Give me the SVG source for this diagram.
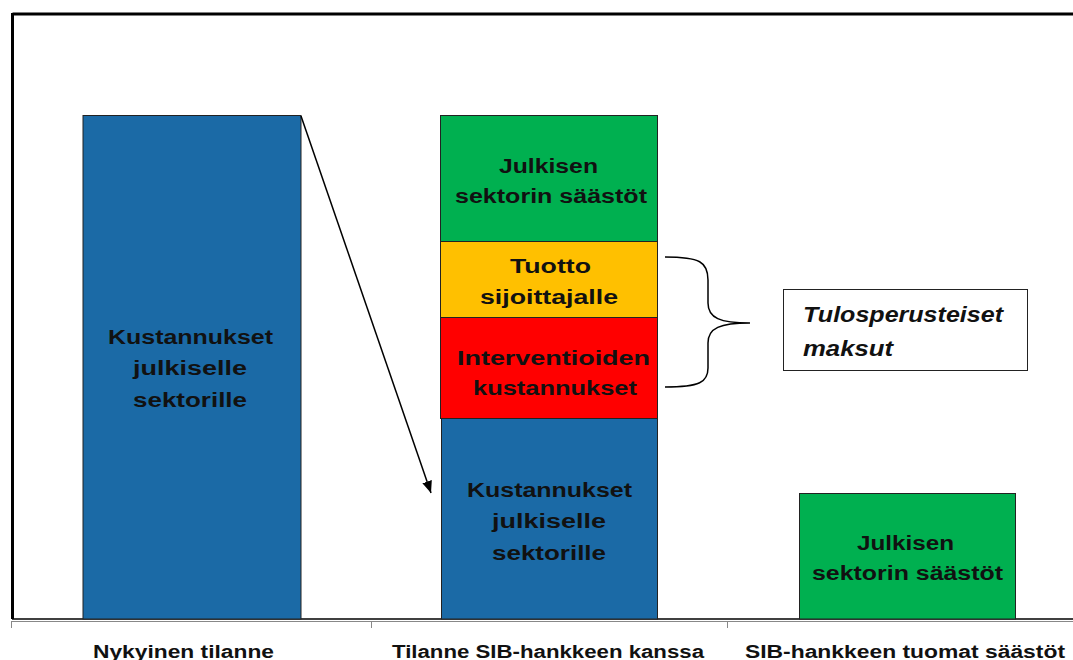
<svg xmlns="http://www.w3.org/2000/svg" width="1073" height="660" viewBox="0 0 1073 660">
<defs>
<style>
.t{font-family:"Liberation Sans",Arial,sans-serif;font-weight:bold;font-size:20px;fill:#111;}
.ax{font-family:"Liberation Sans",Arial,sans-serif;font-weight:bold;font-size:18px;fill:#111;}
.it{font-family:"Liberation Sans",Arial,sans-serif;font-weight:bold;font-style:italic;font-size:22px;fill:#111;}
.bar{stroke:#222;stroke-width:1;}
.blue{fill:#1b6aa6;}
.green{fill:#00b050;}
.yellow{fill:#ffc000;}
.red{fill:#ff0000;}
</style>
<marker id="ah" viewBox="0 0 12 10" refX="12" refY="5" markerWidth="12" markerHeight="10" markerUnits="userSpaceOnUse" orient="auto">
<path d="M0,0 L12,5 L0,10 Z" fill="#000"/>
</marker>
</defs>
<rect x="0" y="0" width="1073" height="660" fill="#fff"/>
<g id="frame">
<line x1="12.5" y1="14" x2="1073" y2="14" stroke="#000" stroke-width="3"/>
<line x1="12.5" y1="13" x2="12.5" y2="619" stroke="#000" stroke-width="3"/>
<line x1="12" y1="619" x2="1073" y2="619" stroke="#000" stroke-width="1.5"/>
<line x1="11" y1="621.5" x2="1073" y2="621.5" stroke="#888" stroke-width="1"/>
<line x1="11.5" y1="621" x2="11.5" y2="628" stroke="#888" stroke-width="1"/>
<line x1="371.5" y1="621" x2="371.5" y2="628" stroke="#888" stroke-width="1"/>
<line x1="727.5" y1="621" x2="727.5" y2="628" stroke="#888" stroke-width="1"/>
</g>
<g id="bar1">
<rect class="bar blue" x="83" y="115.5" width="218" height="503.5"/>
<text class="t" x="108" y="344" textLength="165" lengthAdjust="spacingAndGlyphs">Kustannukset</text>
<text class="t" x="133" y="375" textLength="114" lengthAdjust="spacingAndGlyphs">julkiselle</text>
<text class="t" x="133" y="407" textLength="114" lengthAdjust="spacingAndGlyphs">sektorille</text>
</g>
<g id="bar2-green">
<rect class="bar green" x="440.5" y="115.5" width="217" height="126"/>
<text class="t" x="499" y="173" textLength="99" lengthAdjust="spacingAndGlyphs">Julkisen</text>
<text class="t" x="455" y="203" textLength="192" lengthAdjust="spacingAndGlyphs">sektorin säästöt</text>
</g>
<g id="bar2-yellow">
<rect class="bar yellow" x="440.5" y="241.5" width="217" height="76"/>
<text class="t" x="510" y="273" textLength="81" lengthAdjust="spacingAndGlyphs">Tuotto</text>
<text class="t" x="480" y="304" textLength="138" lengthAdjust="spacingAndGlyphs">sijoittajalle</text>
</g>
<g id="bar2-red">
<rect class="bar red" x="440.5" y="317.5" width="217" height="101"/>
<text class="t" x="457" y="365" textLength="193" lengthAdjust="spacingAndGlyphs">Interventioiden</text>
<text class="t" x="473" y="395" textLength="164" lengthAdjust="spacingAndGlyphs">kustannukset</text>
</g>
<g id="bar2-blue">
<rect class="bar blue" x="441.5" y="418.5" width="216" height="200.5"/>
<text class="t" x="467" y="497" textLength="165" lengthAdjust="spacingAndGlyphs">Kustannukset</text>
<text class="t" x="492" y="528" textLength="114" lengthAdjust="spacingAndGlyphs">julkiselle</text>
<text class="t" x="492" y="560" textLength="114" lengthAdjust="spacingAndGlyphs">sektorille</text>
</g>
<g id="bar3">
<rect class="bar green" x="799.5" y="493.5" width="216" height="125.5"/>
<text class="t" x="857" y="550" textLength="97" lengthAdjust="spacingAndGlyphs">Julkisen</text>
<text class="t" x="812" y="580" textLength="191" lengthAdjust="spacingAndGlyphs">sektorin säästöt</text>
</g>
<g id="callout">
<rect x="783.5" y="289.5" width="244" height="81" fill="#fff" stroke="#222" stroke-width="1"/>
<text class="it" x="803" y="322" textLength="200" lengthAdjust="spacingAndGlyphs">Tulosperusteiset</text>
<text class="it" x="803" y="356" textLength="90" lengthAdjust="spacingAndGlyphs">maksut</text>
</g>
<g id="connectors" fill="none" stroke="#000">
<line x1="301" y1="116" x2="431" y2="493" stroke-width="1.5" marker-end="url(#ah)"/>
<path d="M665,257 C700,257 708,262 708,280 L708,303 C708,318 720,323 750,323 C720,323 708,328 708,343 L708,368 C708,382 700,387 665,387" stroke-width="1.5"/>
</g>
<g id="axis-labels">
<text class="ax" x="93" y="658" textLength="181" lengthAdjust="spacingAndGlyphs">Nykyinen tilanne</text>
<text class="ax" x="392" y="658" textLength="312" lengthAdjust="spacingAndGlyphs">Tilanne SIB-hankkeen kanssa</text>
<text class="ax" x="745" y="658" textLength="320" lengthAdjust="spacingAndGlyphs">SIB-hankkeen tuomat säästöt</text>
</g>
</svg>
